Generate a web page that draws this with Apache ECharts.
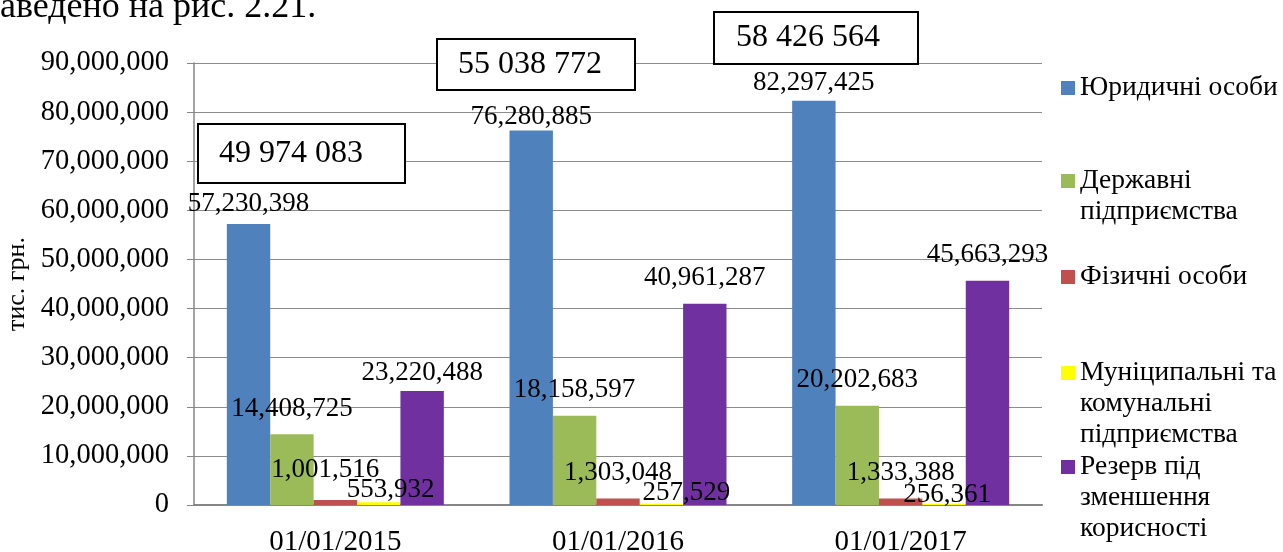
<!DOCTYPE html>
<html>
<head>
<meta charset="utf-8">
<script src="https://cdn.jsdelivr.net/npm/echarts@6/dist/echarts.min.js"></script>
<style>
  html, body { margin: 0; padding: 0; background: #fff; }
  #chart { width: 1283px; height: 552px; }
</style>
</head>
<body>
<div id="chart"></div>
<script>
// дані з рисунка
const categories = ['01/01/2015', '01/01/2016', '01/01/2017'];
const seriesNames = [
  'Юридичні особи',
  'Державні\nпідприємства',
  'Фізичні особи',
  'Муніципальні та\nкомунальні\nпідприємства',
  'Резерв під\nзменшення\nкорисності'
];
const legalEntities = [57230398, 76280885, 82297425];
const stateEnterprises = [14408725, 18158597, 20202683];
const individuals = [1001516, 1303048, 1333388];
const municipal = [553932, 257529, 256361];
const impairmentReserve = [23220488, 40961287, 45663293];
const totals = ['49 974 083', '55 038 772', '58 426 564'];
const yMin = 0, yMax = 90000000, yStep = 10000000;

const seriesData = [legalEntities, stateEnterprises, individuals, municipal, impairmentReserve];
const colors = ['#4f81bd', '#9bbb59', '#c0504d', '#ffff00', '#7030a0'];
// зсув підписів (як у вихідному Excel)
const labelNudge = [
  [[0, 0], [0, 7], [0, 3]],
  [[0, -5], [0, -5], [0, -5]],
  [[-10, -10], [0, -5], [0, -5]],
  [[12, 8], [25, 10], [3, 12]],
  [[0, 2], [0, -5], [0, -5]]
];

const FONT = 'Liberation Serif';
const fmt = v => Number(v).toLocaleString('en-US');

const chart = echarts.init(document.getElementById('chart'));

const series = seriesData.map((arr, i) => ({
  name: seriesNames[i],
  type: 'bar',
  barWidth: 43.4,
  barGap: '0%',
  itemStyle: { color: colors[i] },
  data: arr.map((v, j) => ({
    value: v,
    label: { offset: labelNudge[i][j] }
  })),
  label: {
    show: true,
    position: 'top',
    distance: 7,
    color: '#000',
    fontFamily: FONT,
    fontSize: 27,
    formatter: p => fmt(p.value)
  }
}));

// легенда: окремий блок для кожного ряду, значок на рівні першого рядка
const lh = 31;
const iconCenters = [88, 181, 277, 373, 467];
const legendText = { fontFamily: FONT, fontSize: 27.5, color: '#000', lineHeight: lh };
const legends = seriesNames.map((name, i) => {
  const n = name.split('\n').length;
  return {
    data: [{ name: name, textStyle: legendText }],
    orient: 'vertical',
    left: 1061,
    top: iconCenters[i] - (2 * n - 1) * lh / 2,
    padding: 0,
    icon: 'rect',
    itemWidth: 14,
    itemHeight: 14,
    itemGap: 7,
    selectedMode: false,
    formatter: nm => '\n'.repeat(n - 1) + nm,
    textStyle: legendText
  };
});

const boxes = [
  { x: 198, y: 124, w: 207, h: 59, tx: 219 },
  { x: 437, y: 39, w: 198, h: 51, tx: 458 },
  { x: 714, y: 12, w: 204, h: 52, tx: 736 }
];
const graphic = [{
  type: 'text',
  left: 0,
  top: -10,
  style: { text: 'аведено на рис. 2.21.', font: '36px "Liberation Serif"', fill: '#000' }
}];
boxes.forEach((b, i) => {
  graphic.push({
    type: 'rect',
    shape: { x: b.x, y: b.y, width: b.w, height: b.h },
    style: { fill: '#fff', stroke: '#000', lineWidth: 2 },
    z: 50
  });
  graphic.push({
    type: 'text',
    x: b.tx,
    y: b.y + b.h / 2,
    style: {
      text: totals[i],
      font: '32px "Liberation Serif"',
      fill: '#000',
      verticalAlign: 'middle'
    },
    z: 51
  });
});

const option = {
  animation: false,
  backgroundColor: '#fff',
  grid: { left: 194, right: 241, top: 63, bottom: 47, containLabel: false, outerBoundsMode: 'none' },
  legend: legends,
  xAxis: {
    type: 'category',
    data: categories,
    axisLine: { lineStyle: { color: '#868686', width: 2 } },
    axisTick: { show: false },
    axisLabel: { color: '#000', fontFamily: FONT, fontSize: 29, margin: 23 }
  },
  yAxis: {
    type: 'value',
    min: yMin,
    max: yMax,
    interval: yStep,
    name: 'тис. грн.',
    nameLocation: 'middle',
    nameRotate: 90,
    nameGap: 162,
    nameTextStyle: { color: '#000', fontFamily: FONT, fontSize: 26 },
    axisLine: { show: true, lineStyle: { color: '#868686', width: 1.5 } },
    axisTick: { show: true, length: 7, lineStyle: { color: '#868686' } },
    axisLabel: { color: '#000', fontFamily: FONT, fontSize: 28.5, margin: 25, formatter: v => fmt(v) },
    splitLine: { lineStyle: { color: '#8c8c8c', width: 1 } }
  },
  series: series,
  graphic: graphic
};

chart.setOption(option);
</script>
</body>
</html>
